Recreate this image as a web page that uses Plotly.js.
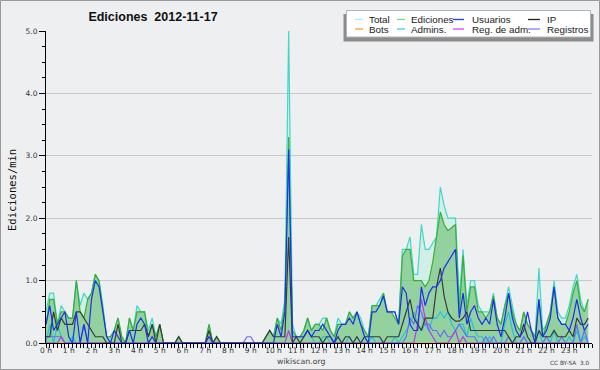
<!DOCTYPE html>
<html><head><meta charset="utf-8">
<script src="https://cdn.plot.ly/plotly-3.0.1.min.js"></script>
<style>html,body{margin:0;padding:0;background:#eeeff1}#chart{width:600px;height:370px}</style>
</head><body><div id="chart"></div>
<script>
// Hour tick labels
const hourLabels = ["0 h","1 h","2 h","3 h","4 h","5 h","6 h","7 h","8 h","9 h","10 h","11 h","12 h","13 h","14 h","15 h","16 h","17 h","18 h","19 h","20 h","21 h","22 h","23 h"];
const hourTicks = [0,1,2,3,4,5,6,7,8,9,10,11,12,13,14,15,16,17,18,19,20,21,22,23];

// Series: edits per minute, one value every 10 minutes (6 per hour)
const total = [
0.5,0.8,0.8,0.3,0.6,0.5, 0.4,0.4,1.0,0.6,0.8,0.7, 0.8,1.1,1.0,0.6,0.1,0.1, 0.2,0.4,0.1,0.0,0.4,0.2,
0.6,0.5,0.5,0.2,0.4,0.1, 0.3,0,0,0,0,0.1, 0,0,0,0,0,0, 0,0.3,0,0.1,0,0,
0,0,0,0,0,0, 0,0,0,0,0.1,0.2, 0.1,0.4,0.3,0.7,5.0,0.3, 0.1,0.1,0.2,0.4,0.2,0.3,
0.3,0.4,0.4,0.2,0.1,0.4, 0.3,0.3,0.5,0.4,0.5,0.4, 0.2,0.1,0.6,0.6,0.7,0.8, 0.5,0.5,0.5,0.3,1.5,1.5,
1.7,1.1,1.1,1.9,1.5,1.5, 1.6,1.7,2.5,2.2,2.0,2.0, 2.0,0.7,1.5,0.6,1.0,1.0, 0.6,0.5,0.5,0.5,0.8,0.4,
0.3,0.6,0.9,0.6,0.3,0.2, 0.5,0.3,0.2,0.1,1.2,0.2, 0.3,0.5,1.0,0.5,0.4,0.4, 0.6,0.9,1.1,0.7,0.5,0.7];
const edits = [
0.3,0.7,0.7,0.3,0.5,0.5, 0.4,0.4,1.0,0.5,0.4,0.7, 0.8,1.1,1.0,0.5,0.1,0.1, 0.2,0.4,0.1,0.0,0.4,0.2,
0.5,0.5,0.5,0.1,0.3,0.1, 0.3,0,0,0,0,0.1, 0,0,0,0,0,0, 0,0.3,0,0.1,0,0,
0,0,0,0,0,0, 0,0,0,0,0.1,0.2, 0.1,0.4,0.2,0.6,3.3,0.2, 0.1,0.1,0.2,0.4,0.2,0.3,
0.3,0.2,0.4,0.2,0.1,0.3, 0.3,0.3,0.5,0.4,0.5,0.3, 0.2,0.1,0.6,0.6,0.6,0.8, 0.5,0.5,0.4,0.3,1.4,1.5,
1.5,1.0,1.0,1.0,0.9,1.0, 1.3,1.7,2.1,1.9,1.8,1.85, 1.9,0.5,1.4,0.5,0.9,0.9, 0.5,0.5,0.4,0.5,0.75,0.4,
0.3,0.6,0.8,0.5,0.3,0.2, 0.5,0.3,0.2,0.1,0.7,0.1, 0.3,0.5,0.9,0.4,0.3,0.3, 0.5,0.8,1.0,0.6,0.5,0.7];
const users = [
0.3,0.6,0.2,0.3,0.4,0.5, 0.1,0.0,0.5,0.0,0.3,0.0, 0.7,1.0,0.9,0.5,0.1,0.0, 0.2,0.1,0.0,0.0,0.2,0.0,
0.3,0.4,0.3,0.0,0.1,0.0, 0,0,0,0,0,0, 0,0,0,0,0,0, 0,0.1,0,0,0,0,
0,0,0,0,0,0, 0,0,0,0,0,0, 0.0,0.3,0.1,0.5,3.1,0.1, 0.1,0.1,0.1,0.2,0.1,0.2,
0.2,0.3,0.2,0.1,0.0,0.2, 0.3,0.3,0.4,0.3,0.5,0.3, 0.1,0.0,0.5,0.5,0.6,0.75, 0.5,0.5,0.5,0.3,0.9,0.8,
0.3,0.2,0.2,0.9,0.6,0.8, 0.9,0.9,1.0,1.2,1.3,1.4, 1.5,0.4,0.8,0.3,0.5,0.6, 0.4,0.3,0.4,0.3,0.7,0.3,
0.1,0.4,0.8,0.4,0.2,0.1, 0.2,0.5,0.2,0.0,0.7,0.1, 0.2,0.4,0.9,0.4,0.3,0.3, 0.2,0.4,0.7,0.4,0.2,0.3];
const ip = [
0.1,0.1,0.5,0.2,0.4,0.3, 0.3,0.3,0.5,0.5,0.4,0.3, 0.2,0.1,0.1,0.1,0.0,0.0, 0.0,0.3,0.0,0.0,0.2,0.2,
0.2,0.2,0.3,0.1,0.3,0.0, 0.3,0,0,0,0,0.1, 0,0,0,0,0,0, 0,0.2,0,0.1,0,0,
0,0,0,0,0,0, 0,0,0,0,0.1,0.2, 0.1,0.1,0.1,0.1,1.7,0.0, 0.1,0.0,0.1,0.2,0.1,0.1,
0.1,0.0,0.1,0.1,0.0,0.1, 0.0,0.1,0.1,0.0,0.1,0.0, 0.1,0.1,0.1,0.1,0.1,0.0, 0.1,0.1,0.1,0.1,0.3,0.5,
0.7,0.4,0.3,0.2,0.4,0.4, 0.4,0.9,1.2,0.75,0.5,0.4, 0.35,0.35,0.4,0.5,0.2,0.2, 0.2,0.2,0.2,0.2,0.2,0.2,
0.2,0.2,0.1,0.0,0.1,0.1, 0.3,0.1,0.0,0.0,0.2,0.1, 0.1,0.1,0.2,0.1,0.1,0.1, 0.2,0.1,0.4,0.3,0.3,0.4];
const bots = [
0,0,0,0,0,0, 0,0,0,0,0,0, 0,0,0,0,0,0, 0,0,0,0,0,0,
0,0,0,0,0,0, 0,0,0,0,0,0, 0,0,0,0,0,0, 0,0,0,0,0,0,
0,0,0,0,0,0, 0,0,0,0,0,0, 0,0,0,0,0,0, 0,0,0,0,0,0,
0,0,0,0,0,0, 0,0,0,0,0,0, 0,0,0,0,0,0, 0,0,0,0,0,0,
0,0,0,0,0,0, 0,0,0,0,0,0, 0,0,0,0,0,0, 0,0,0,0,0,0,
0,0,0,0,0,0, 0,0,0,0,0,0, 0,0,0,0,0,0, 0,0,0,0,0,0];
const admins = [
0,0.3,0,0.3,0.1,0, 0,0.1,0,0,0,0, 0,0,0,0,0,0, 0,0,0,0,0,0,
0,0,0,0,0,0, 0,0,0,0,0,0, 0,0,0,0,0,0, 0,0,0,0,0,0,
0,0,0,0,0,0, 0,0,0,0,0,0, 0,0,0,0,0,0, 0,0,0.1,0.2,0.1,0,
0,0.1,0.1,0,0,0.1, 0,0,0.1,0,0,0, 0.1,0,0.1,0,0,0, 0,0,0.1,0,0.1,0.2,
0.3,0.5,0.3,0.2,0.3,0.2, 0.4,0.4,0.5,0.4,0.5,0.3, 0.2,0.3,0.3,0.1,0.4,0.2, 0.1,0.1,0,0.1,0,0,
0,0.3,0.5,0.2,0,0, 0.1,0,0,0,0.2,0, 0,0,0.2,0,0,0, 0.1,0,0.2,0,0.1,0];
const regAdm = [
0,0,0,0,0.1,0, 0,0,0,0,0,0, 0,0,0,0,0,0, 0,0,0,0,0,0,
0,0,0,0,0,0, 0,0,0,0,0,0, 0,0,0,0,0,0, 0,0,0,0,0,0,
0,0,0,0,0,0, 0,0,0,0,0,0, 0,0,0,0,0.2,0, 0,0,0,0,0,0,
0,0,0,0,0,0, 0,0,0,0,0,0, 0,0,0,0,0,0, 0,0,0,0,0,0,
0,0,0.3,0.7,0.4,0.2, 0.1,0,0,0,0,0.1, 0.2,0,0.1,0,0,0, 0,0,0,0,0,0,
0,0,0,0,0,0, 0,0,0,0,0,0, 0,0,0,0,0,0, 0,0,0,0,0,0];
const registros = [
0.1,0.1,0.1,0.1,0.1,0, 0,0,0,0,0.3,0, 0,0,0,0,0,0, 0,0,0,0,0,0,
0,0,0,0,0,0, 0,0,0,0,0,0, 0,0,0,0,0,0, 0,0,0,0,0,0,
0,0,0,0,0,0.1, 0.1,0,0,0,0,0, 0,0,0,0,0,0, 0,0,0,0,0,0,
0,0,0,0,0,0, 0,0,0,0,0,0, 0,0,0,0,0,0, 0,0,0,0,0,0.1,
0.4,0.3,0.6,0.5,0.3,0.3, 0.2,0.2,0.1,0.2,0.1,0.1, 0.2,0.3,0.2,0.1,0.1,0.1, 0,0,0.1,0,0.1,0,
0,0,0.1,0,0,0, 0.1,0,0,0,0,0, 0.1,0,0,0,0.1,0, 0,0,0.3,0,0.2,0];

const seriesNames = ["Total","Ediciones","Usuarios","IP","Bots","Admins.","Reg. de adm.","Registros"];
const seriesData  = [total, edits, users, ip, bots, admins, regAdm, registros];

// ---------- styling ----------
const lineColors  = ["#3fd8c8","#3aae3a","#1c2ff0","#3a3a3a","#ffa020","#22c2e0","#b43ce8","#6a6aff"];
const legendColors= ["#a6ecec","#7fd67f","#3434ff","#222222","#ffa020","#3cd2e6","#e040ff","#8080ff"];
const fills = {0:"rgba(175,240,220,0.45)", 1:"rgba(60,170,60,0.42)"};
const drawOrder = [0,1,4,5,7,6,3,2];

const times = total.map((_, i) => i / 6);
const traces = drawOrder.map(k => {
  const t = {
    type: "scatter", mode: "lines", name: seriesNames[k],
    x: times, y: seriesData[k],
    line: {color: lineColors[k], width: 1.2},
    showlegend: false, hoverinfo: "x+y+name"
  };
  if (fills[k]) { t.fill = "tozeroy"; t.fillcolor = fills[k]; }
  return t;
});

const L = 46, T = 31, W = 546, H = 312;
const px = x => (x - L) / W;
const py = y => (T + H - y) / H;

const shapes = [
  {type:"rect", xref:"paper", yref:"paper", x0:px(0.5), x1:px(599.5), y0:py(369.5), y1:py(0.5),
   line:{color:"#9a9a9a", width:1}, fillcolor:"rgba(0,0,0,0)", layer:"below"},
  {type:"rect", xref:"paper", yref:"paper", x0:px(343.5), x1:px(593.5), y0:py(41.5), y1:py(14),
   line:{width:0}, fillcolor:"#8c8c8c", layer:"above"},
  {type:"rect", xref:"paper", yref:"paper", x0:px(346.5), x1:px(590.5), y0:py(37), y1:py(10.5),
   line:{color:"#b4b4b4", width:1}, fillcolor:"#ffffff", layer:"above"}
];
const annotations = [
  {text:"Ediciones/min", xref:"paper", yref:"paper", x:px(12), y:py(190), textangle:-90, showarrow:false,
   xanchor:"center", yanchor:"middle",
   font:{family:"DejaVu Sans Mono", size:10.5, color:"#111"}},
  {text:"wikiscan.org", xref:"paper", yref:"paper", x:px(301), y:py(361.5), showarrow:false,
   xanchor:"center", yanchor:"middle",
   font:{family:"DejaVu Sans", size:7.8, color:"#444"}},
  {text:"CC BY-SA\u00a0 3.0", xref:"paper", yref:"paper", x:px(569.5), y:py(362.5), showarrow:false,
   xanchor:"center", yanchor:"middle",
   font:{family:"DejaVu Sans", size:5.8, color:"#444"}}
];
const legendOrder = [0,1,2,3,4,5,6,7];
const colText = [367, 408.5, 469.5, 545];
const colLine = [[355,363],[397,405],[453,464],[528,540]];
const rowY = [19.5, 29];
legendOrder.forEach((k, j) => {
  const c = j % 4, r = Math.floor(j / 4);
  shapes.push({type:"line", xref:"paper", yref:"paper", x0:px(colLine[c][0]), x1:px(colLine[c][1]),
    y0:py(rowY[r]), y1:py(rowY[r]), line:{color:legendColors[k], width:1.3}, layer:"above"});
  annotations.push({text:seriesNames[k], xref:"paper", yref:"paper", x:px(colText[c]), y:py(rowY[r]),
    xanchor:"left", yanchor:"middle", showarrow:false,
    font:{family:"Liberation Sans", size:9.8, color:"#1a1a1a"}});
});

const tickFont = {family:"DejaVu Sans", size:7.5, color:"#333"};
const layout = {
  width: 600, height: 370,
  margin: {l: L, r: 600 - L - W, t: T, b: 370 - T - H, pad: 0},
  paper_bgcolor: "#eeeff1", plot_bgcolor: "#eeeff1",
  title: {text: "<b>Ediciones\u00a0 2012-11-17</b>", xref:"container", yref:"container",
          x: 153/600, xanchor:"center", y: 1 - 17/370, yanchor:"middle",
          font:{family:"Liberation Sans", size:12.5, color:"#111"}},
  showlegend: false,
  xaxis: {range:[0,24], tickmode:"array", tickvals: hourTicks, ticktext: hourLabels,
          showgrid:false, zeroline:false, showline:true, linecolor:"#000", linewidth:1,
          ticks:"outside", ticklen:4, tickcolor:"#000", tickwidth:1, ticklabelstandoff:-4,
          minor:{tickmode:"linear", tick0:0, dtick:1/6, ticks:"outside", ticklen:4, tickcolor:"#000", tickwidth:1, showgrid:false},
          tickfont:tickFont, fixedrange:true},
  yaxis: {range:[0,5], tickmode:"linear", tick0:0, dtick:1, tickformat:".1f",
          showgrid:true, gridcolor:"#c9c9c9", gridwidth:1, zeroline:false,
          showline:true, linecolor:"#000", linewidth:1,
          ticks:"outside", ticklen:6, tickcolor:"#000", tickwidth:1,
          minor:{tickmode:"linear", tick0:0, dtick:0.25, ticks:"outside", ticklen:3, tickcolor:"#000", tickwidth:1, showgrid:false},
          tickfont:tickFont, fixedrange:true},
  shapes: shapes, annotations: annotations
};
Plotly.newPlot("chart", traces, layout, {displayModeBar:false, staticPlot:true});
</script>
</body></html>
